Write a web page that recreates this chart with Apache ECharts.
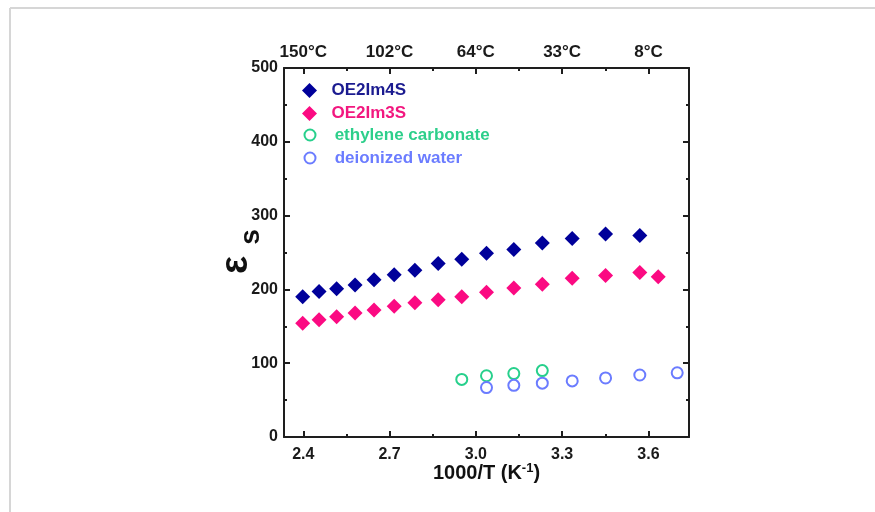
<!DOCTYPE html>
<html>
<head>
<meta charset="utf-8">
<script src="https://cdn.jsdelivr.net/npm/echarts@6/dist/echarts.min.js"></script>
<style>html,body{margin:0;padding:0;background:#fff}#c{width:875px;height:512px}</style>
</head>
<body>
<div id="c"></div>
<script>
// ---- data ----
const x4S = [2.398, 2.455, 2.516, 2.580, 2.646, 2.716, 2.788, 2.869, 2.951, 3.037, 3.132, 3.231, 3.335, 3.451, 3.570];
const eps4S = [190, 197, 201, 206, 213, 220, 226, 235, 241, 249, 254, 263, 269, 275, 273];
const x3S = [2.398, 2.455, 2.516, 2.580, 2.646, 2.716, 2.788, 2.869, 2.951, 3.037, 3.132, 3.231, 3.335, 3.451, 3.570, 3.634];
const eps3S = [154, 159, 163, 168, 172, 177, 182, 186, 190, 196, 202, 207, 215, 219, 223, 217];
const xEC = [2.951, 3.037, 3.132, 3.231];
const epsEC = [78, 83, 86, 90];
const xWater = [3.037, 3.132, 3.231, 3.335, 3.451, 3.570, 3.700];
const epsWater = [67, 70, 73, 76, 80, 84, 87];
const xMajorTicks = [2.4, 2.7, 3.0, 3.3, 3.6];
const xMinorTicks = [2.55, 2.85, 3.15, 3.45];
const topTickLabels = ['150°C', '102°C', '64°C', '33°C', '8°C'];
const seriesNames = ['OE2Im4S', 'OE2Im3S', 'ethylene carbonate', 'deionized water'];
const colors = ['#00009a', '#fb0a82', '#27d08c', '#6b7cff'];

const pairs = (xs, ys) => xs.map((x, i) => [x, ys[i]]);
const FONT = '"Liberation Sans", Arial, sans-serif';
const AX = '#1e1e1e';
const XMIN = 2.333, XMAX = 3.741;

function xAxisDef(pos, major, withLine, labels) {
  return {
    type: 'value', position: pos, min: XMIN, max: XMAX,
    axisLine: { show: withLine, onZero: false, lineStyle: { color: AX, width: 2 } },
    axisTick: { show: true, inside: true, length: major ? 6 : 3, customValues: major ? xMajorTicks : xMinorTicks, lineStyle: { color: AX, width: 2 } },
    axisLabel: labels ? {
      show: true, customValues: xMajorTicks, margin: pos === 'top' ? 7 : 10,
      fontFamily: FONT, fontWeight: 'bold', fontSize: pos === 'top' ? 17 : 16, color: '#1a1a1a',
      formatter: pos === 'top' ? (v) => { const i = xMajorTicks.findIndex(t => Math.abs(t - v) < 1e-6); return i >= 0 ? topTickLabels[i] : ''; } : (v) => v.toFixed(1)
    } : { show: false },
    splitLine: { show: false }
  };
}
function yAxisDef(pos, labels) {
  return {
    type: 'value', position: pos, min: 0, max: 500, interval: 100,
    axisLine: { show: true, onZero: false, lineStyle: { color: AX, width: 2 } },
    axisTick: { show: true, inside: true, length: 6, lineStyle: { color: AX, width: 2 } },
    minorTick: { show: true, splitNumber: 2, length: 3, lineStyle: { color: AX, width: 2 } },
    axisLabel: labels ? { show: true, margin: 6, fontFamily: FONT, fontWeight: 'bold', fontSize: 16, color: '#1a1a1a' } : { show: false },
    splitLine: { show: false }
  };
}

const chart = echarts.init(document.getElementById('c'), null, { renderer: 'canvas' });
const bottomMain = xAxisDef('bottom', true, true, true);
bottomMain.name = '1000/T (K{sup|-1})';
bottomMain.nameLocation = 'middle';
bottomMain.nameGap = 25;
bottomMain.nameMoveOverlap = false;
bottomMain.nameTextStyle = {
  fontFamily: FONT, fontWeight: 'bold', fontSize: 20, color: '#111',
  rich: { sup: { fontFamily: FONT, fontWeight: 'bold', fontSize: 13, color: '#111', verticalAlign: 'top', padding: [0, 0, 10, 0] } }
};

chart.setOption({
  animation: false,
  backgroundColor: '#fff',
  grid: { left: 284, right: 186, top: 68, bottom: 75, containLabel: false },
  xAxis: [
    bottomMain,
    xAxisDef('bottom', false, false, false),
    xAxisDef('top', true, true, true),
    xAxisDef('top', false, false, false)
  ],
  yAxis: [yAxisDef('left', true), yAxisDef('right', false)],
  legend: [
    {
      orient: 'vertical', left: 302, top: 82, padding: 0, itemWidth: 15, itemHeight: 15, itemGap: 6,
      selectedMode: false,
      formatter: (n) => '  ' + n,
      textStyle: { fontFamily: FONT, fontWeight: 'bold', fontSize: 17 },
      data: [
        { name: seriesNames[0], textStyle: { color: '#1b1b90' } },
        { name: seriesNames[1], textStyle: { color: '#f2177f' } }
      ]
    },
    {
      orient: 'vertical', left: 303.5, top: 126.5, padding: 0, itemWidth: 11, itemHeight: 11, itemGap: 6,
      selectedMode: false,
      formatter: (n) => '   ' + n,
      textStyle: { fontFamily: FONT, fontWeight: 'bold', fontSize: 17 },
      itemStyle: { borderWidth: 1.6 },
      data: [
        { name: seriesNames[2], textStyle: { color: '#2dcf8b' } },
        { name: seriesNames[3], textStyle: { color: '#6b7cff' } }
      ]
    }
  ],
  series: [
    { name: seriesNames[0], type: 'scatter', symbol: 'diamond', symbolSize: 15, data: pairs(x4S, eps4S), itemStyle: { color: colors[0], opacity: 1 } },
    { name: seriesNames[1], type: 'scatter', symbol: 'diamond', symbolSize: 15, data: pairs(x3S, eps3S), itemStyle: { color: colors[1], opacity: 1 } },
    { name: seriesNames[2], type: 'scatter', symbol: 'emptyCircle', symbolSize: 11, data: pairs(xEC, epsEC), itemStyle: { color: colors[2], borderWidth: 2, opacity: 1 } },
    { name: seriesNames[3], type: 'scatter', symbol: 'emptyCircle', symbolSize: 11, data: pairs(xWater, epsWater), itemStyle: { color: colors[3], borderWidth: 2, opacity: 1 } }
  ],
  graphic: [
    { type: 'line', shape: { x1: 10, y1: 8, x2: 875, y2: 8 }, style: { stroke: '#d6d6d6', lineWidth: 2 }, silent: true },
    { type: 'line', shape: { x1: 10, y1: 8, x2: 10, y2: 512 }, style: { stroke: '#d6d6d6', lineWidth: 2 }, silent: true },
    { type: 'text', x: 237, y: 265, rotation: Math.PI / 2, silent: true,
      style: { text: 'ε', font: 'bold 38px "Liberation Sans", Arial, sans-serif', fill: '#111', align: 'center', verticalAlign: 'middle' } },
    { type: 'text', x: 251, y: 237, rotation: Math.PI / 2, silent: true,
      style: { text: 's', font: 'bold 28px "Liberation Sans", Arial, sans-serif', fill: '#111', align: 'center', verticalAlign: 'middle' } }
  ]
});
</script>
</body>
</html>
